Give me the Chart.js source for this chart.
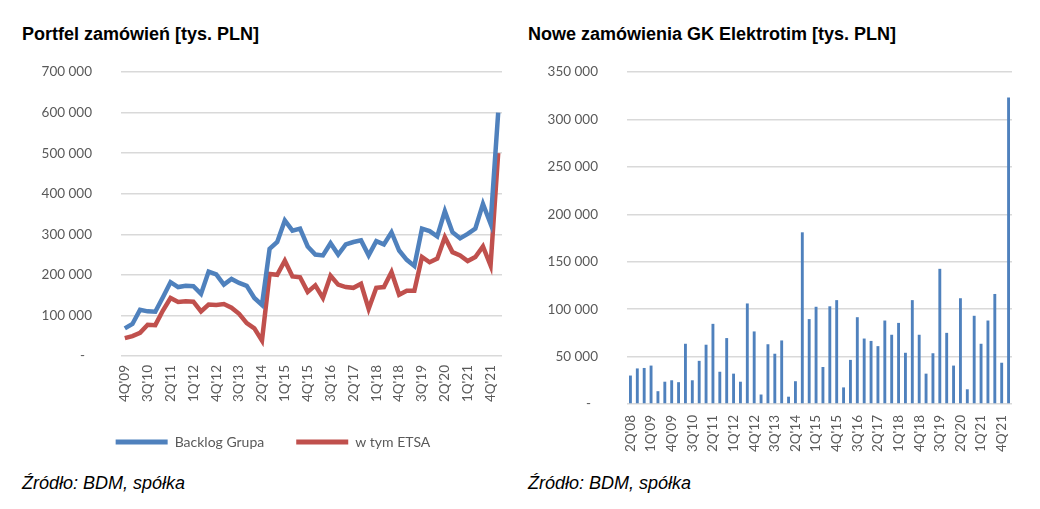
<!DOCTYPE html>
<html>
<head>
<meta charset="utf-8">
<script src="https://cdn.jsdelivr.net/npm/chart.js@4"></script>
<style>
  body { margin: 0; background: #fff; width: 1040px; height: 509px; position: relative; overflow: hidden; font-family: "Liberation Sans", Arial, sans-serif; }
  .title { position: absolute; top: 24px; font-weight: bold; font-size: 18px; color: #000; white-space: nowrap; }
  .source { position: absolute; top: 473px; font-style: italic; font-size: 18px; color: #000; white-space: nowrap; }
  canvas { position: absolute; }
</style>
</head>
<body>
<div class="title" style="left:22px">Portfel zamówień [tys. PLN]</div>
<div class="title" style="left:528px">Nowe zamówienia GK Elektrotim [tys. PLN]</div>
<canvas id="backlogChart" width="520" height="399" style="left:0;top:60px"></canvas>
<canvas id="ordersChart" width="520" height="400" style="left:520px;top:60px"></canvas>
<div class="source" style="left:22px">Źródło: BDM, spółka</div>
<div class="source" style="left:528px">Źródło: BDM, spółka</div>
<script>
  // quarters 2Q'08 .. 1Q'22
  const quarters = [
    "2Q'08", "3Q'08", "4Q'08", "1Q'09", "2Q'09", "3Q'09", "4Q'09",
    "1Q'10", "2Q'10", "3Q'10", "4Q'10", "1Q'11", "2Q'11", "3Q'11", "4Q'11",
    "1Q'12", "2Q'12", "3Q'12", "4Q'12", "1Q'13", "2Q'13", "3Q'13", "4Q'13",
    "1Q'14", "2Q'14", "3Q'14", "4Q'14", "1Q'15", "2Q'15", "3Q'15", "4Q'15",
    "1Q'16", "2Q'16", "3Q'16", "4Q'16", "1Q'17", "2Q'17", "3Q'17", "4Q'17",
    "1Q'18", "2Q'18", "3Q'18", "4Q'18", "1Q'19", "2Q'19", "3Q'19", "4Q'19",
    "1Q'20", "2Q'20", "3Q'20", "4Q'20", "1Q'21", "2Q'21", "3Q'21", "4Q'21",
    "1Q'22"
  ];
  const backlogQuarters = quarters.slice(6); // from 4Q'09

  const backlogGroup = [
    68000, 79000, 114000, 110000, 109000, 145000, 182000, 170000, 173000, 172000,
    153000, 208000, 201000, 176000, 190000, 180000, 173000, 143000, 126000, 264000,
    281000, 334000, 309000, 314000, 270000, 250000, 248000, 278000, 250000, 275000,
    281000, 285000, 248000, 283000, 275000, 305000, 260000, 237000, 222000, 314000,
    308000, 295000, 357000, 305000, 290000, 301000, 314000, 375000, 326000, 600000
  ];
  const backlogEtsa = [
    44000, 49000, 57000, 77000, 76000, 112000, 143000, 133000, 135000, 134000,
    110000, 127000, 126000, 128000, 119000, 104000, 81000, 68000, 38000, 202000,
    200000, 235000, 196000, 194000, 158000, 174000, 143000, 198000, 176000, 170000,
    168000, 178000, 116000, 168000, 170000, 207000, 151000, 161000, 161000, 244000,
    231000, 240000, 293000, 256000, 248000, 234000, 244000, 270000, 223000, 500000
  ];
  const newOrders = [
    30000, 37500, 38000, 40500, 13500, 23500, 25000, 23000, 63500, 25000,
    45500, 62500, 84500, 34000, 69500, 32000, 23500, 106000, 76500, 10000,
    63000, 53000, 67000, 7700, 24000, 181000, 89500, 102500, 39000, 103000,
    109500, 17500, 46500, 91500, 69000, 66500, 61000, 88000, 73000, 85500,
    54000, 109500, 73000, 32000, 53500, 142500, 75000, 40500, 111500, 15500,
    93000, 63500, 88000, 116000, 43500, 323000
  ];

  const blue = "#4F81BD";
  const red = "#C0504D";
  const gridColor = "#d9d9d9";
  const tickColor = "#595959";
  const tickFont = { family: "Lato", size: 13.5 };

  function fmt(v) {
    if (v === 0) return "-  ";
    return String(v).replace(/\B(?=(\d{3})+(?!\d))/g, " ");
  }

  // y labels sit 29px left of the plot; use an invisible tick mark so
  // the gap doesn't get added to the top padding
  const yGrid = { color: gridColor, lineWidth: 1.5, drawTicks: true, tickLength: 29, tickColor: "rgba(0,0,0,0)" };

  // nudge the legend a bit to the right, like in the original
  const legendShift = {
    id: "legendShift",
    afterLayout(chart) {
      if (chart.legend) {
        chart.legend.left += 22;
        chart.legend.right += 22;
      }
    },
  };

  new Chart(document.getElementById("backlogChart"), {
    type: "line",
    data: {
      labels: backlogQuarters,
      datasets: [
        { label: "Backlog Grupa", data: backlogGroup, borderColor: blue, backgroundColor: blue, borderWidth: 4.5, pointRadius: 0, tension: 0 },
        { label: "w tym ETSA", data: backlogEtsa, borderColor: red, backgroundColor: red, borderWidth: 4.5, pointRadius: 0, tension: 0 },
      ],
    },
    options: {
      responsive: false,
      animation: false,
      layout: { padding: { left: 0, right: 18, top: 12, bottom: 0 } },
      plugins: {
        tooltip: { enabled: false },
        legend: {
          position: "bottom",
          labels: {
            boxWidth: 52,
            boxHeight: 5,
            padding: 32,
            color: tickColor,
            font: { family: "Lato", size: 14 },
            generateLabels: (chart) =>
              Chart.defaults.plugins.legend.labels.generateLabels(chart).map((l) => ({ ...l, lineWidth: 0 })),
          },
        },
      },
      scales: {
        x: {
          offset: true,
          grid: { display: false },
          border: { display: false },
          ticks: {
            autoSkip: false, minRotation: 90, maxRotation: 90, padding: 1,
            color: tickColor, font: tickFont,
            callback: (v, i) => (i % 3 === 0 ? backlogQuarters[i] : null),
          },
          afterFit: (s) => { s.height = 47; },
        },
        y: {
          min: 0, max: 700000,
          ticks: { stepSize: 100000, padding: 0, color: tickColor, font: tickFont, callback: fmt },
          grid: yGrid,
          border: { display: false },
          afterFit: (s) => { s.width = 121; },
        },
      },
    },
    plugins: [legendShift],
  });

  new Chart(document.getElementById("ordersChart"), {
    type: "bar",
    data: {
      labels: quarters,
      datasets: [
        { label: "Nowe zamówienia", data: newOrders, backgroundColor: blue, barPercentage: 0.42, categoryPercentage: 1 },
      ],
    },
    options: {
      responsive: false,
      animation: false,
      layout: { padding: { left: 0, right: 28, top: 12, bottom: 0 } },
      plugins: { legend: { display: false }, tooltip: { enabled: false } },
      scales: {
        x: {
          grid: { display: false },
          border: { display: false },
          ticks: {
            autoSkip: false, minRotation: 90, maxRotation: 90, padding: 3,
            color: tickColor, font: tickFont,
            callback: (v, i) => (i % 3 === 0 ? quarters[i] : null),
          },
          afterFit: (s) => { s.height = 56; },
        },
        y: {
          min: 0, max: 350000,
          ticks: { stepSize: 50000, padding: 0, color: tickColor, font: tickFont, callback: fmt },
          grid: yGrid,
          border: { display: false },
          afterFit: (s) => { s.width = 107; },
        },
      },
    },
  });
</script>
</body>
</html>
